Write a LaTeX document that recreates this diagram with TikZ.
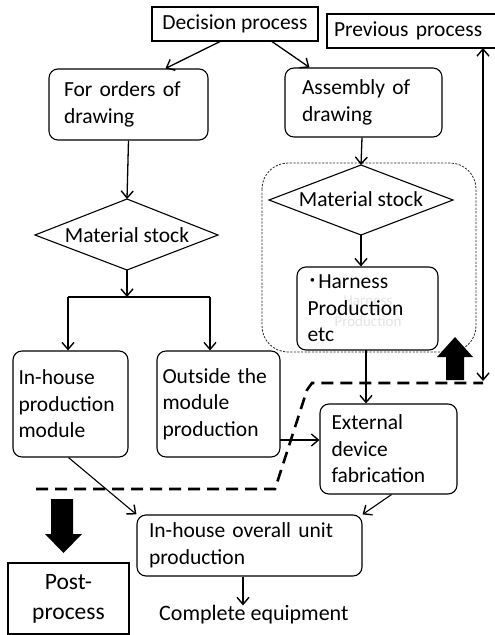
\documentclass[tikz,border=0pt]{standalone}
\usepackage{fontspec}
\setmainfont{Carlito}
\newfontfamily\cjk{Noto Sans CJK JP}
\usetikzlibrary{arrows.meta}

\tikzset{
  proc/.style={draw, rounded corners=9pt, line width=1.1pt, align=left,
    inner xsep=0pt, inner ysep=0pt, font=\fontsize{21.5}{26.5}\selectfont},
  tag/.style={draw, line width=1.1pt, inner sep=0pt,
    font=\fontsize{21.5}{26.5}\selectfont},
  decide/.style={draw, line width=1.1pt},
  barb/.tip={Straight Barb[length=7pt,width=12pt,line width=1.4pt]},
  flow/.style={line width=1.3pt, -barb},
}

\begin{document}
\begin{tikzpicture}[x=1pt, y=-1pt]
        \useasboundingbox (0,0) rectangle (495,635);

        % === Top ===
        \node[tag, minimum width=166pt, minimum height=34pt] (decision) at (235, 24) {Decision process};
        \node[tag, minimum width=190pt, minimum height=34pt, text width=176pt, align=left] (previous) at (422, 31) {Previous process};

        % === Left branch ===
        \node[proc, minimum width=159pt, minimum height=71pt, text width=129pt] (orders) at (128.5, 104.5) {For orders of\\drawing};

        % diamond
        \draw[decide] (35, 235) -- (127, 199) -- (218, 235) -- (127, 270) -- cycle;
        \node[font=\fontsize{21.5}{26.5}\selectfont] (stockL) at (127, 235) {Material stock};
        \coordinate (stockLtop) at (127, 199);
        \coordinate (stockLbot) at (127, 270);
        \coordinate (split) at (127, 297);
        \coordinate (splitL) at (68, 297);
        \coordinate (splitR) at (210, 297);

        \node[proc, minimum width=115pt, minimum height=106pt, text width=104pt] (inhouse) at (70.5, 404) {In-house\\production\\module};
        \node[proc, minimum width=123pt, minimum height=106pt, text width=112pt] (outside) at (218.5, 404) {Outside the\\module\\production};

        % === Right branch ===
        \node[proc, minimum width=157pt, minimum height=69pt, text width=123pt] (assembly) at (363.5, 102.5) {Assembly of\\drawing};

        % dotted group
        \draw[line width=0.8pt, dash pattern=on 2.2pt off 1.4pt, black!85, rounded corners=26pt] (262, 163) rectangle (476, 352);

        % diamond
        \draw[decide] (269, 200) -- (361, 165) -- (453, 200) -- (361, 235) -- cycle;
        \node[font=\fontsize{21.5}{26.5}\selectfont] (stockR) at (361, 199) {Material stock};
        \coordinate (stockRtop) at (361, 165);
        \coordinate (stockRbot) at (361, 235);

        % faint overprint
        \node[font=\fontsize{15}{21}\selectfont, gray!22, align=center] (ghost) at (368, 311) {Harness\\Production};
        \node[proc, minimum width=141pt, minimum height=83pt, text width=120pt] (harness) at (367.5, 308.5) {{\cjk ･}Harness\\Production\\etc};

        \node[proc, minimum width=137pt, minimum height=90pt, text width=114pt] (external) at (388.5, 449) {External\\device\\fabrication};

        \node[proc, minimum width=225pt, minimum height=61pt, text width=201pt] (overall) at (249.5, 545.5) {In-house overall unit\\production};
        \node[font=\fontsize{22}{26}\selectfont, anchor=west, inner sep=0pt] (complete) at (159, 615) {Complete equipment};

        \node[tag, minimum width=121pt, minimum height=71pt, align=center, font=\fontsize{23.5}{30}\selectfont] (post) at (68.5, 598.5) {Post-\\process};

        % === Connectors ===
        \draw[flow] ([xshift=-15pt]decision.south) -- ([xshift=37pt]orders.north);
        \draw[flow] ([xshift=37pt]decision.south) -- ([xshift=-54pt]assembly.north);
        \draw[flow] (orders.south) -- (stockLtop);
        \draw[flow] (stockLbot) -- (split);
        \draw[line width=1.3pt] (splitL) -- (splitR);
        \draw[flow] (splitL) -- (splitL |- inhouse.north);
        \draw[flow] (splitR) -- (splitR |- outside.north);
        \draw[flow] ([xshift=-1.5pt]assembly.south) -- (stockRtop);
        \draw[flow] (stockRbot) -- (harness.north -| stockRbot);
        \coordinate (hx) at (366, 350);
        \draw[flow] (hx) -- (hx |- external.north);
        \coordinate (ox) at (280, 440);
        \draw[flow] (ox) -- (ox -| external.west);
        \draw[flow, line width=1.1pt] ([xshift=-2pt]inhouse.south) -- (overall.north west);
        \draw[flow, line width=1.1pt] ([xshift=3pt]external.south) -- (overall.north east);
        \draw[flow, line width=1.1pt] ([xshift=-6.5pt]overall.south) -- (complete.north -| 243,0);

        % === Separator ===
        \draw[line width=2.6pt, dash pattern=on 12pt off 7pt] (36, 489) -- (275, 489) -- (307, 390) -- (312, 383) -- (483, 383);
        \coordinate (prevfoot) at (483, 48);
        \coordinate (sepfoot) at (483, 381);
        \draw[line width=1.3pt, barb-barb] (prevfoot) -- (sepfoot);

        % block arrows
        \fill (446, 380) -- (446, 357) -- (437, 357) -- (455, 337) -- (473, 357) -- (464, 357) -- (464, 380) -- cycle;
        \fill (51, 499) -- (51, 534) -- (45, 534) -- (63.5, 553) -- (82, 534) -- (73, 534) -- (73, 499) -- cycle;

    \end{tikzpicture}
\end{document}
